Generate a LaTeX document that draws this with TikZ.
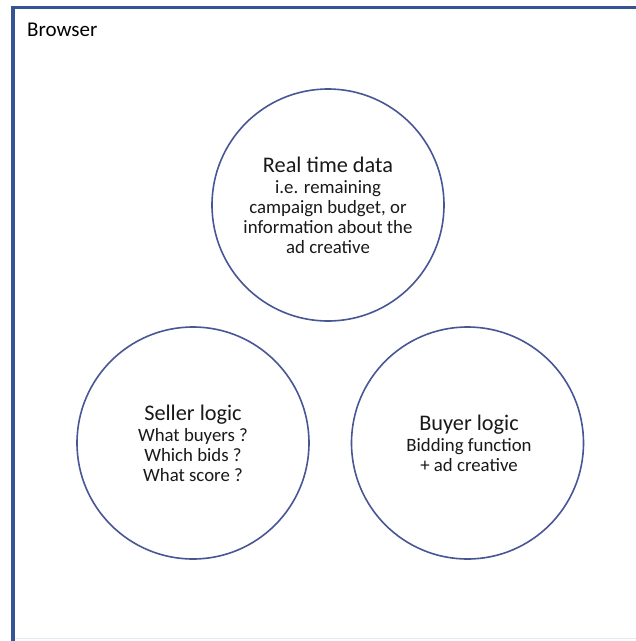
\documentclass[tikz,border=0pt]{standalone}
\usepackage{fontspec}
\setmainfont{Carlito}
\definecolor{frameblue}{RGB}{52,84,148}
\definecolor{circblue}{RGB}{72,86,150}
\definecolor{faint}{RGB}{226,234,242}
\tikzset{
  bubble/.style={circle, draw=circblue, line width=1.6pt, minimum size=232pt, inner sep=0pt},
  bubbletext/.style={align=center, inner sep=0pt, text=black!90, font=\fontsize{18.8}{20}\selectfont}
}
\newcommand{\bubtitle}[1]{{\fontsize{22.3}{22}\selectfont #1}\\[1pt]}
\begin{document}
\begin{tikzpicture}[x=1pt,y=-1pt]
\useasboundingbox (0,0) rectangle (636,641);
\fill[white] (0,0) rectangle (636,641);
% frame
\draw[faint, line width=1.5pt] (13,638.5) -- (636,638.5);
\draw[frameblue, line width=3pt] (11.5,7) -- (636,7);
\draw[frameblue, line width=4pt] (13,5.5) -- (13,641);
\node[anchor=base west, font=\fontsize{21}{21}\selectfont, inner sep=0pt] (browser) at (27,36) {Browser};
% circles
\node[bubble] (rt) at (328,205) {};
\node[bubble] (seller) at (193,443) {};
\node[bubble] (buyer) at (467.5,443) {};
% texts
\node[bubbletext] (rttext) at (328,205) {\bubtitle{Real time data}i.e. remaining\\campaign budget, or\\information about the\\ad creative};
\node[bubbletext] (sellertext) at (193,443) {\bubtitle{Seller logic}What buyers ?\\Which bids ?\\What score ?};
\node[bubbletext] (buyertext) at (469,443) {\bubtitle{Buyer logic}Bidding function\\+ ad creative};
\end{tikzpicture}
\end{document}
